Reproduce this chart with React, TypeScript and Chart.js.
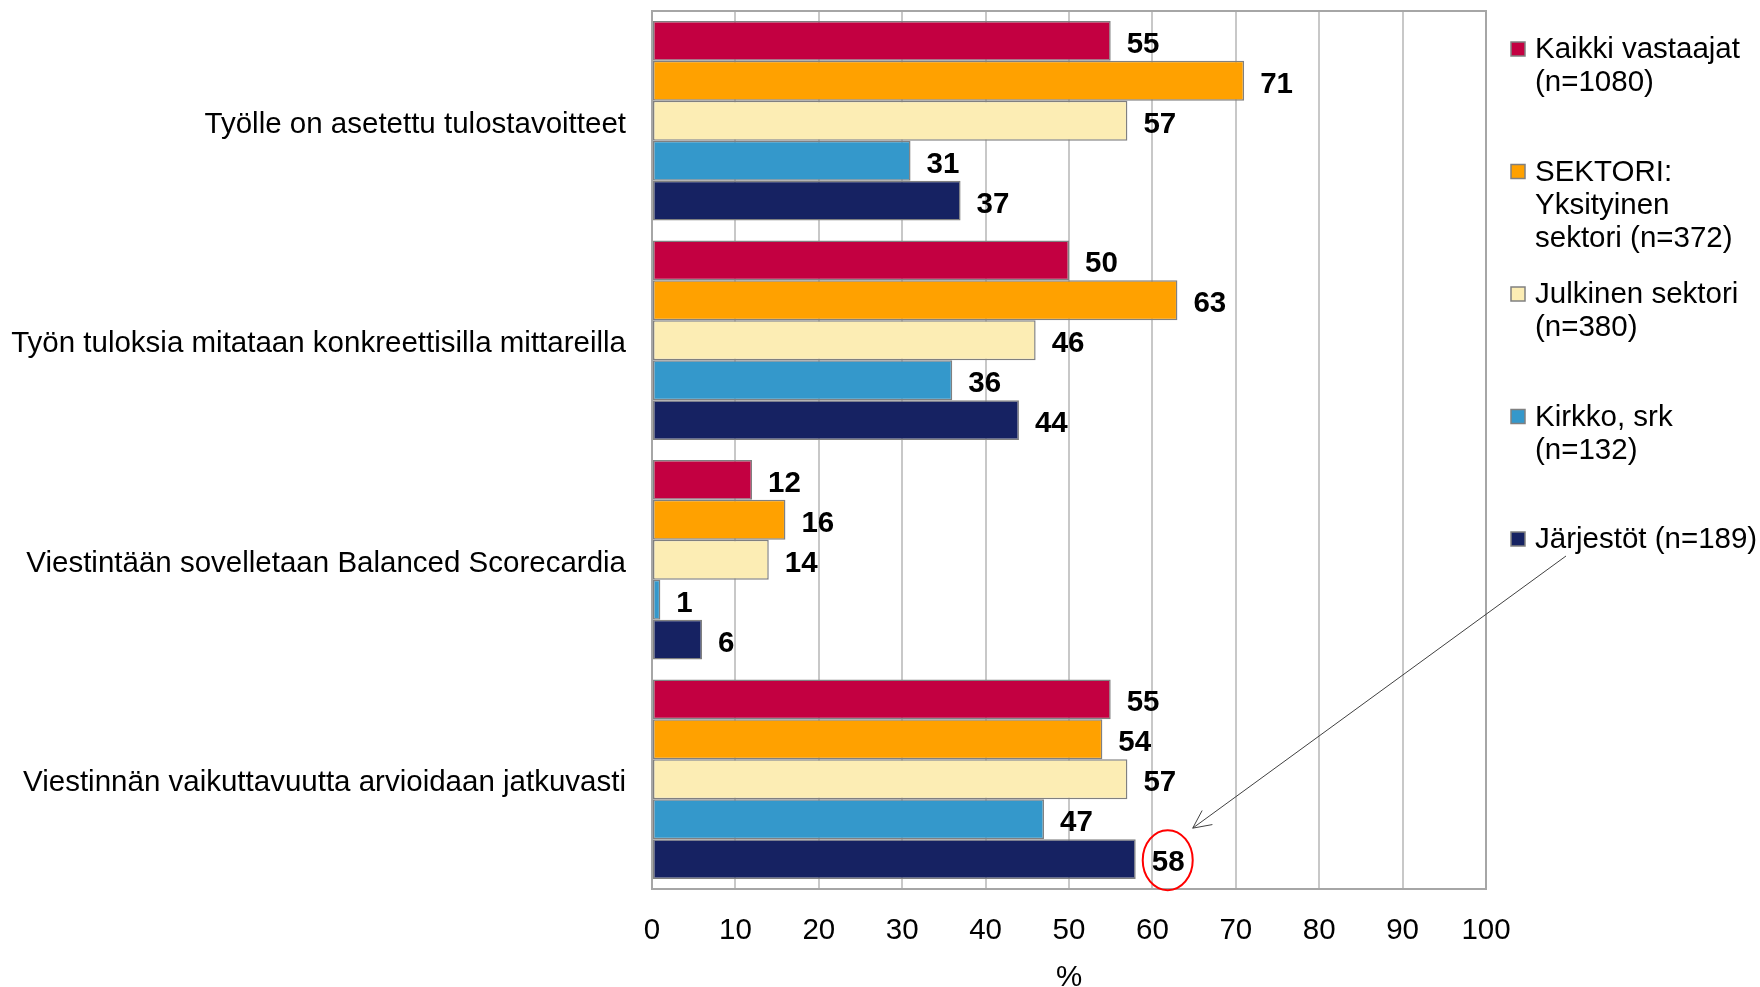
import React, { useEffect, useRef } from "react";
import { Chart, registerables } from "chart.js";

Chart.register(...registerables);

// ---- data ----
const categories = [
  "Työlle on asetettu tulostavoitteet",
  "Työn tuloksia mitataan konkreettisilla mittareilla",
  "Viestintään sovelletaan Balanced Scorecardia",
  "Viestinnän vaikuttavuutta arvioidaan jatkuvasti",
];
const legendLines = [
  ["Kaikki vastaajat", "(n=1080)"],
  ["SEKTORI:", "Yksityinen", "sektori (n=372)"],
  ["Julkinen sektori", "(n=380)"],
  ["Kirkko, srk", "(n=132)"],
  ["Järjestöt (n=189)"],
];
const kaikki = [55, 50, 12, 55];
const yksityinen = [71, 63, 16, 54];
const julkinen = [57, 46, 14, 57];
const kirkko = [31, 36, 1, 47];
const jarjestot = [37, 44, 6, 58];
const seriesValues = [kaikki, yksityinen, julkinen, kirkko, jarjestot];
const seriesColors = ["#C30041", "#FFA100", "#FCEDB4", "#3498CB", "#162262"];
const axisMin = 0;
const axisMax = 100;
const axisStep = 10;
const axisTitle = "%";
const highlightSeries = 4;
const highlightIndex = 3;

const FONT = "'Liberation Sans', Arial, sans-serif";
const FS = 29.5;

const overlayPlugin = {
  id: "overlay",
  beforeDatasetsDraw(chart: any) {
    const { ctx, chartArea } = chart;
    ctx.save();
    ctx.strokeStyle = "#a6a6a6";
    ctx.lineWidth = 2;
    ctx.strokeRect(chartArea.left, chartArea.top, chartArea.right - chartArea.left, chartArea.bottom - chartArea.top);
    ctx.restore();
  },
  afterDatasetsDraw(chart: any) {
    const { ctx } = chart;
    ctx.save();
    ctx.font = `bold ${FS}px ${FONT}`;
    ctx.fillStyle = "#000";
    ctx.textAlign = "left";
    ctx.textBaseline = "middle";
    chart.data.datasets.forEach((ds: any, di: number) => {
      const meta = chart.getDatasetMeta(di);
      meta.data.forEach((el: any, i: number) => {
        ctx.fillText(String(ds.data[i]), el.x + 16, el.y + 4);
      });
    });
    ctx.restore();
  },
  afterDraw(chart: any) {
    const { ctx } = chart;
    ctx.save();
    // legend
    const sqX = 1511;
    const txtX = 1535;
    const firstY = 49;
    const entryGap = 122.5;
    const lineGap = 33;
    ctx.font = `${FS}px ${FONT}`;
    ctx.textAlign = "left";
    ctx.textBaseline = "middle";
    chart.data.datasets.forEach((ds: any, di: number) => {
      const y0 = firstY + di * entryGap;
      ctx.fillStyle = ds.backgroundColor;
      ctx.fillRect(sqX, y0 - 7, 14, 14);
      ctx.strokeStyle = "#808080";
      ctx.lineWidth = 1.5;
      ctx.strokeRect(sqX, y0 - 7, 14, 14);
      ctx.fillStyle = "#000";
      legendLines[di].forEach((line, li) => {
        ctx.fillText(line, txtX, y0 + li * lineGap + 1);
      });
    });
    // highlight ellipse
    const el = chart.getDatasetMeta(highlightSeries).data[highlightIndex];
    const cx = el.x + 32;
    const cy = el.y + 1;
    const rx = 25;
    const ry = 30;
    ctx.strokeStyle = "#ff0000";
    ctx.lineWidth = 2;
    ctx.beginPath();
    ctx.ellipse(cx, cy, rx, ry, 0, 0, Math.PI * 2);
    ctx.stroke();
    // arrow from legend entry to ellipse
    const sx = txtX + 31;
    const sy = firstY + highlightSeries * entryGap + 17;
    const tx = cx + 25;
    const ty = cy - 32;
    ctx.strokeStyle = "#404040";
    ctx.lineWidth = 1;
    ctx.beginPath();
    ctx.moveTo(sx, sy);
    ctx.lineTo(tx, ty);
    ctx.stroke();
    const ang = Math.atan2(sy - ty, sx - tx);
    const len = 20;
    const spread = 0.45;
    ctx.beginPath();
    ctx.moveTo(tx + len * Math.cos(ang + spread), ty + len * Math.sin(ang + spread));
    ctx.lineTo(tx, ty);
    ctx.lineTo(tx + len * Math.cos(ang - spread), ty + len * Math.sin(ang - spread));
    ctx.stroke();
    ctx.restore();
  },
};

export default function App() {
  const ref = useRef<HTMLCanvasElement | null>(null);
  useEffect(() => {
    document.body.style.margin = "0";
    const canvas = ref.current;
    if (!canvas) return;
    const chart = new Chart(canvas, {
      type: "bar",
      data: {
        labels: categories,
        datasets: seriesValues.map((vals, i) => ({
          label: legendLines[i].join(" "),
          data: vals,
          backgroundColor: seriesColors[i],
          borderColor: "#808080",
          borderWidth: 1.5,
          borderSkipped: false,
          categoryPercentage: 0.91,
          barPercentage: 1.0,
        })),
      },
      options: {
        indexAxis: "y",
        responsive: false,
        animation: false,
        devicePixelRatio: 1,
        layout: { padding: { left: 0, right: 274, top: 11, bottom: 0 } },
        plugins: { legend: { display: false }, tooltip: { enabled: false } },
        scales: {
          x: {
            min: axisMin,
            max: axisMax,
            ticks: { stepSize: axisStep, color: "#000", font: { family: FONT, size: FS }, padding: 24 },
            grid: { color: "#c8c8c8", lineWidth: 2, drawTicks: false },
            border: { display: false },
            title: { display: true, text: axisTitle, color: "#000", font: { family: FONT, size: FS, lineHeight: 0.6 }, padding: 0 },
            afterFit: (s: any) => { s.height = 98; s.paddingLeft = 0; s.paddingRight = 0; },
          },
          y: {
            ticks: { color: "#000", font: { family: FONT, size: FS }, padding: 26, labelOffset: 4 },
            grid: { display: false, drawTicks: false },
            border: { display: false },
            afterFit: (s: any) => { s.width = 652; s.paddingTop = 0; s.paddingBottom = 0; },
          },
        },
      } as any,
      plugins: [overlayPlugin],
    });
    return () => chart.destroy();
  }, []);
  return <canvas ref={ref} width={1760} height={987} style={{ display: "block" }} />;
}
